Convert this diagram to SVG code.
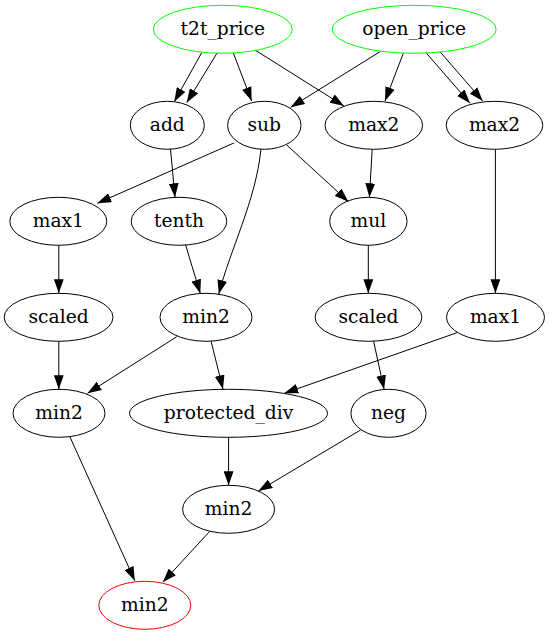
<svg xmlns="http://www.w3.org/2000/svg" width="549" height="635" viewBox="0 0 549 635">
  <style>
    .node ellipse { fill: none; stroke: #000; stroke-width: 1; }
    .node.input ellipse { stroke: #00ff00; }
    .node.output ellipse { stroke: #ff0000; }
    .node text { font-family: "DejaVu Serif", serif; font-size: 18.67px; text-anchor: middle; fill: #000; }
    .edges path { fill: none; stroke: #000; stroke-width: 1; marker-end: url(#arrow); }
  </style>
  <defs>
    <marker id="arrow" markerUnits="userSpaceOnUse" markerWidth="14" markerHeight="10" viewBox="0 0 13.3 9.33" refX="13.3" refY="4.67" orient="auto">
      <path d="M0,0 L13.3,4.67 L0,9.33 z" fill="#000"/>
    </marker>
  </defs>
  <rect width="549" height="635" fill="#fff"/>

  <!-- connectors -->
  <g id="edges" class="edges">
    <path d="M201.7,52.7 L174.3,101.7"/>
    <path d="M217.3,52.7 L186.7,102.7"/>
    <path d="M233.3,53 L251.7,101"/>
    <path d="M255,50 L344,106"/>
    <path d="M380,51.7 L290.7,107.3"/>
    <path d="M403.3,53.3 L385,101"/>
    <path d="M426,52.7 L470,103.3"/>
    <path d="M440,51.7 L482.7,101"/>
    <path d="M233.9,143 L97.3,203.3"/>
    <path d="M170.5,149 L175,197.3"/>
    <path d="M260.9,149.3 C256,200 230,250 218.8,294"/>
    <path d="M286.4,144.7 L348.4,201.7"/>
    <path d="M372.2,149.5 L369.4,197.3"/>
    <path d="M495.4,149.5 L495.4,293.3"/>
    <path d="M58.8,245.3 L58.8,293.3"/>
    <path d="M185.6,245 L200.3,293.5"/>
    <path d="M368.3,245.3 L368.3,293.3"/>
    <path d="M58.8,341.3 L58.8,389.3"/>
    <path d="M176.8,336.7 L87.5,393.3"/>
    <path d="M211.1,341.3 L223,389.3"/>
    <path d="M457,332.7 L284.3,393.3"/>
    <path d="M373.6,341.3 L384.1,389.3"/>
    <path d="M228.6,437.3 L228.6,485.3"/>
    <path d="M360.6,430 L258.4,491"/>
    <path d="M70,437 L134.8,580.7"/>
    <path d="M209.4,531.7 L162.8,582.3"/>
  </g>

  <!-- inputs -->
  <g id="t2t_price" class="node input">
    <ellipse cx="222.8" cy="29.3" rx="69.5" ry="24"/>
    <text x="222.8" y="34.9">t2t_price</text>
  </g>
  <g id="open_price" class="node input">
    <ellipse cx="414.2" cy="29.3" rx="81.8" ry="24"/>
    <text x="414.2" y="34.9">open_price</text>
  </g>

  <!-- rank 1 -->
  <g id="add" class="node">
    <ellipse cx="167.3" cy="125.3" rx="37" ry="24"/>
    <text x="167.3" y="130.9">add</text>
  </g>
  <g id="sub" class="node">
    <ellipse cx="264.3" cy="125.3" rx="36.7" ry="24"/>
    <text x="264.3" y="130.9">sub</text>
  </g>
  <g id="max2_a" class="node">
    <ellipse cx="373.8" cy="125.3" rx="48.8" ry="24"/>
    <text x="373.8" y="130.9">max2</text>
  </g>
  <g id="max2_b" class="node">
    <ellipse cx="494.5" cy="125.3" rx="48.3" ry="24"/>
    <text x="494.5" y="130.9">max2</text>
  </g>

  <!-- rank 2 -->
  <g id="max1_a" class="node">
    <ellipse cx="58.3" cy="221.3" rx="48.5" ry="24"/>
    <text x="58.3" y="226.9">max1</text>
  </g>
  <g id="tenth" class="node">
    <ellipse cx="179" cy="221.3" rx="47.8" ry="24"/>
    <text x="179" y="226.9">tenth</text>
  </g>
  <g id="mul" class="node">
    <ellipse cx="368.4" cy="221.3" rx="38.7" ry="24"/>
    <text x="368.4" y="226.9">mul</text>
  </g>

  <!-- rank 3 -->
  <g id="scaled_a" class="node">
    <ellipse cx="58.6" cy="317.3" rx="54.4" ry="24"/>
    <text x="58.6" y="322.9">scaled</text>
  </g>
  <g id="min2_a" class="node">
    <ellipse cx="206" cy="317.3" rx="46" ry="24"/>
    <text x="206" y="322.9">min2</text>
  </g>
  <g id="scaled_b" class="node">
    <ellipse cx="368.5" cy="317.3" rx="53.4" ry="24"/>
    <text x="368.5" y="322.9">scaled</text>
  </g>
  <g id="max1_b" class="node">
    <ellipse cx="495.5" cy="317.3" rx="49" ry="24"/>
    <text x="495.5" y="322.9">max1</text>
  </g>

  <!-- rank 4 -->
  <g id="min2_b" class="node">
    <ellipse cx="59" cy="413.3" rx="46" ry="24"/>
    <text x="59" y="418.9">min2</text>
  </g>
  <g id="protected_div" class="node">
    <ellipse cx="228.5" cy="413.3" rx="99" ry="24"/>
    <text x="228.5" y="418.9">protected_div</text>
  </g>
  <g id="neg" class="node">
    <ellipse cx="388.5" cy="413.3" rx="37.6" ry="24"/>
    <text x="388.5" y="418.9">neg</text>
  </g>

  <!-- rank 5 -->
  <g id="min2_c" class="node">
    <ellipse cx="228.6" cy="509.3" rx="46" ry="24"/>
    <text x="228.6" y="514.9">min2</text>
  </g>

  <!-- output -->
  <g id="min2_out" class="node output">
    <ellipse cx="144.8" cy="605.3" rx="46" ry="24"/>
    <text x="144.8" y="610.9">min2</text>
  </g>
</svg>
